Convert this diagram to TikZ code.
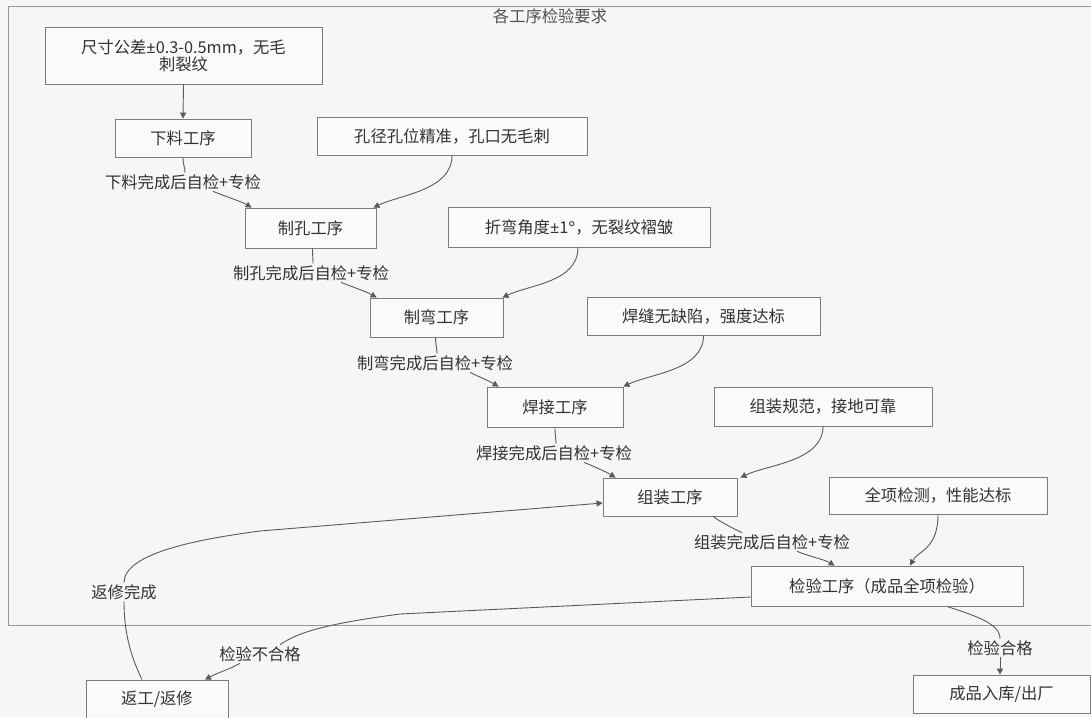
\documentclass[tikz,border=0pt]{standalone}
\usepackage{fontspec}
\setmainfont{Noto Sans CJK SC}
\newfontfamily\latinf{Noto Sans}
\usetikzlibrary{calc,arrows.meta}
\definecolor{bg}{RGB}{244,246,248}
\definecolor{boxfill}{RGB}{249,250,251}
\definecolor{edgec}{RGB}{90,90,90}
\definecolor{boxline}{RGB}{125,125,125}
\definecolor{txt}{RGB}{50,50,50}
\begin{document}
\begin{tikzpicture}[x=1pt,y=-1pt,
  box/.style={draw=boxline, fill=boxfill, line width=0.8pt, inner sep=2pt,
    font=\fontsize{16.3}{17}\selectfont, text=txt, align=center},
  lbl/.style={inner sep=1.5pt, font=\fontsize{16.3}{17}\selectfont, text=txt},
  conn/.style={draw=edgec, line width=0.9pt},
  arr/.style={conn, -{Triangle[length=6pt,width=6pt]}}
]
\useasboundingbox[fill=bg] (0,0) rectangle (1091,717);
% cluster frame
\draw[boxline!80, line width=0.7pt] (1091,6) -- (8,6) -- (8,625) -- (1091,625);
\node[lbl, text=txt!85] (title) at (550,16) {各工序检验要求};

% nodes
\node[box, minimum width=277pt, minimum height=57pt] (req1) at (183.5,55.5) {尺寸公差{\latinf ±}0.3-0.5mm，无毛\\刺裂纹};
\node[box, minimum width=136pt, minimum height=38pt] (xialiao) at (183,138) {下料工序};
\node[box, minimum width=270pt, minimum height=38pt] (kongjing) at (452,136) {孔径孔位精准，孔口无毛刺};
\node[box, minimum width=131pt, minimum height=40pt] (zhikong) at (310.5,228) {制孔工序};
\node[box, minimum width=262pt, minimum height=40pt] (zhewanreq) at (579,227) {折弯角度{\latinf ±}1{\latinf °}，无裂纹褶皱};
\node[box, minimum width=133pt, minimum height=39pt] (zhiwan) at (436.5,317.5) {制弯工序};
\node[box, minimum width=233pt, minimum height=38pt] (hanfeng) at (703.5,316) {焊缝无缺陷，强度达标};
\node[box, minimum width=136pt, minimum height=40pt] (hanjie) at (555,407) {焊接工序};
\node[box, minimum width=218pt, minimum height=39pt] (zzreq) at (823,406.5) {组装规范，接地可靠};
\node[box, minimum width=134pt, minimum height=38pt] (zuzhuang) at (670,497) {组装工序};
\node[box, minimum width=218pt, minimum height=37pt] (quanxiang) at (938,495.5) {全项检测，性能达标};
\node[box, minimum width=272pt, minimum height=40pt] (jianyan) at (887,586) {检验工序（成品全项检验）};
\node[box, minimum width=142pt, minimum height=38pt] (fangong) at (157,699) {返工/返修};
\node[box, minimum width=177pt, minimum height=38pt] (chengpin) at (1001.5,694) {成品入库/出厂};

% edge labels
\node[lbl] (L1) at (183,182) {下料完成后自检+专检};
\node[lbl] (L2) at (311,273) {制孔完成后自检+专检};
\node[lbl] (L3) at (435,363) {制弯完成后自检+专检};
\node[lbl] (L4) at (554,453) {焊接完成后自检+专检};
\node[lbl] (L5) at (772,542) {组装完成后自检+专检};
\node[lbl] (L6) at (124,592) {返修完成};
\node[lbl] (L7) at (260,654) {检验不合格};
\node[lbl] (L8) at (1000,648) {检验合格};

% connectors
\draw[arr] (req1.south) -- (xialiao.north);

\draw[conn] (xialiao.south) .. controls +(0,8) and +(0,-6) .. ($(L1.north)+(2,0)$);
\draw[arr] ($(L1.south)+(30,0)$) .. controls +(12,5) and +(-10,-6) .. ($(zhikong.north west)+(7,0)$);
\draw[arr] (kongjing.south) .. controls +(0,35) and +(27,-13) .. ($(zhikong.north east)+(-3,0)$);

\draw[conn] ($(zhikong.south)+(2,0)$) .. controls +(0,8) and +(0,-6) .. ($(L2.north)+(2,0)$);
\draw[arr] ($(L2.south)+(30,0)$) .. controls +(12,5) and +(-10,-6) .. ($(zhiwan.north west)+(7,0)$);
\draw[arr] ($(zhewanreq.south)+(-1,0)$) .. controls +(0,35) and +(27,-13) .. ($(zhiwan.north east)+(-1,0)$);

\draw[conn] ($(zhiwan.south)+(-1,0)$) .. controls +(0,8) and +(0,-6) .. ($(L3.north)+(2,0)$);
\draw[arr] ($(L3.south)+(35,0)$) .. controls +(10,5) and +(-10,-6) .. ($(hanjie.north west)+(12,0)$);
\draw[arr] (hanfeng.south) .. controls +(0,35) and +(27,-13) .. (hanjie.north east);

\draw[conn] (hanjie.south) .. controls +(0,8) and +(0,-6) .. ($(L4.north)+(2,0)$);
\draw[arr] ($(L4.south)+(30,0)$) .. controls +(12,5) and +(-10,-6) .. ($(zuzhuang.north west)+(13,0)$);
\draw[arr] (zzreq.south) .. controls +(0,35) and +(27,-13) .. ($(zuzhuang.north east)+(3,0)$);

\draw[conn] ($(zuzhuang.south)+(43,0)$) .. controls +(8,6) and +(-8,-4) .. ($(L5.north)+(-30,0)$);
\draw[arr] ($(L5.south)+(25,0)$) .. controls +(12,5) and +(-10,-6) .. ($(jianyan.north west)+(84,0)$);
\draw[arr] (quanxiang.south) .. controls +(0,35) and +(8,-15) .. ($(jianyan.north)+(23,0)$);

\draw[conn] ($(jianyan.south)+(60,0)$) .. controls +(30,10) and +(0,-15) .. (L8.north);
\draw[arr] (L8.south) -- (L8.south |- chengpin.north);

\draw[conn] ($(jianyan.west)+(0,11)$) -- (400,614) .. controls (340,622) and (300,630) .. ($(L7.north)+(20,0)$);
\draw[arr] ($(L7.south)+(-20,0)$) .. controls +(-10,6) and +(15,-8) .. ($(fangong.north)+(48,0)$);

\draw[conn] ($(fangong.north)+(-15,0)$) .. controls +(-12,-25) and +(0,30) .. (L6.south);
\draw[arr] (L6.north) .. controls +(0,-30) and +(-60,8) .. (260,531) -- ($(zuzhuang.west)+(0,6)$);
\end{tikzpicture}
\end{document}
